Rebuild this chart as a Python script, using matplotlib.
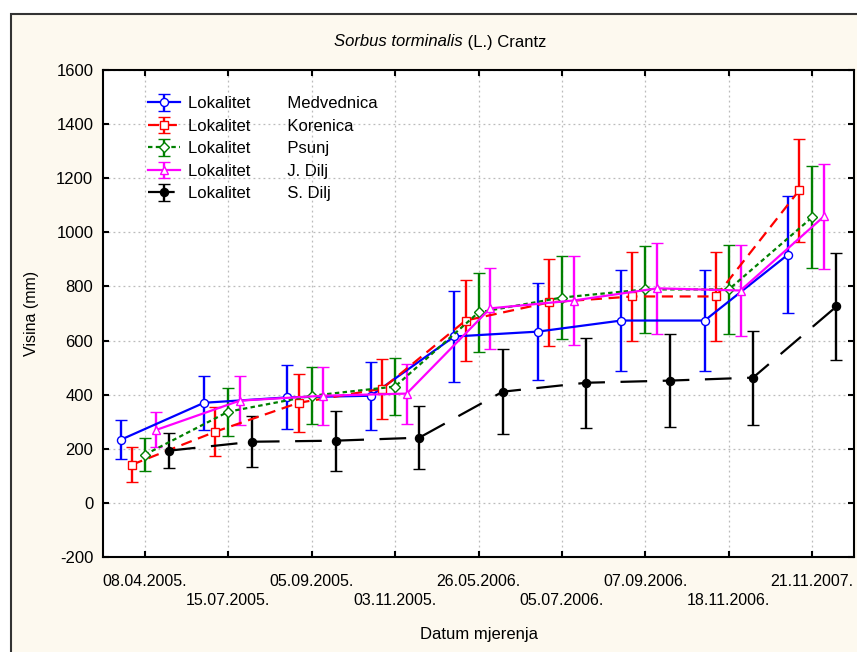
# -*- coding:utf-8 -*-
import numpy as np
import matplotlib
matplotlib.use('Agg')
from matplotlib import pyplot as plt
from matplotlib.patches import Rectangle

# datumi mjerenja
dates = ['08.04.2005.', '15.07.2005.', '05.09.2005.', '03.11.2005.', '26.05.2006.',
         '05.07.2006.', '07.09.2006.', '18.11.2006.', '21.11.2007.']

# srednje visine (mm) i greske po lokalitetu
medvednica = [233, 370, 390, 396, 615, 633, 674, 674, 918]
medvednica_err = [72, 100, 118, 126, 169, 180, 186, 185, 215]
korenica = [141, 263, 370, 422, 674, 741, 763, 763, 1156]
korenica_err = [65, 90, 107, 111, 150, 161, 165, 165, 190]
psunj = [178, 337, 396, 430, 704, 759, 789, 789, 1056]
psunj_err = [61, 89, 105, 107, 147, 155, 161, 163, 189]
j_dilj = [270, 378, 396, 404, 719, 748, 793, 785, 1059]
j_dilj_err = [65, 91, 107, 111, 150, 163, 168, 168, 195]
s_dilj = [193, 226, 230, 241, 411, 444, 452, 463, 726]
s_dilj_err = [65, 95, 111, 117, 156, 167, 172, 174, 199]

names = ['Medvednica', 'Korenica', 'Psunj', 'J. Dilj', 'S. Dilj']

plt.rcParams['font.family'] = ['Liberation Sans', 'DejaVu Sans']
plt.rcParams['axes.unicode_minus'] = False

fig = plt.figure(figsize=(8.57, 6.52), dpi=100, facecolor='white')
# okvir s krem pozadinom
fig.patches.append(Rectangle((11 / 857, -0.02), 1.0, (652 - 14) / 652 + 0.02,
                             transform=fig.transFigure, facecolor='#fdf9ef',
                             edgecolor='#333333', lw=1.5, zorder=-10))

ax = fig.add_axes([103 / 857, 95 / 652, 751 / 857, 487 / 652])
ax.set_facecolor('white')

x = np.arange(1, len(dates) + 1)
series = [
    (medvednica, medvednica_err, -0.29, 'blue', '-', 'o', 'white'),
    (korenica, korenica_err, -0.155, 'red', (0, (5, 3)), 's', 'white'),
    (psunj, psunj_err, 0.0, 'green', (0, (2, 1.5)), 'D', 'white'),
    (j_dilj, j_dilj_err, 0.14, 'magenta', '-', '^', 'white'),
    (s_dilj, s_dilj_err, 0.29, 'black', (0, (12, 7)), 'o', 'black'),
]

for (vals, errs, off, col, ls, mk, fc), name in zip(series, names):
    ms = 5.8 if mk != 'D' else 5.3
    eb = ax.errorbar(x + off, vals, yerr=errs, color=col, ecolor=col, elinewidth=1.7,
                     capsize=4.5, capthick=1.7, lw=1.6, marker=mk, markersize=ms,
                     markerfacecolor=fc, markeredgecolor=col, markeredgewidth=1.0,
                     label='Lokalitet        ' + name, zorder=3)
    eb.lines[0].set_linestyle(ls)

ax.set_xlim(0.5, 9.5)
ax.set_ylim(-200, 1600)
ax.set_yticks(np.arange(-200, 1601, 200))
ax.set_xticks(x)
ax.set_xticklabels([d if i % 2 == 0 else '\n' + d for i, d in enumerate(dates)], fontsize=11.5,
                   linespacing=1.4)
ax.tick_params(axis='y', labelsize=12, direction='in', length=4, width=1.5, right=True, pad=7)
ax.tick_params(axis='x', direction='in', length=4, width=1.5, top=True, pad=12)

ax.grid(True, linestyle=(0, (1.5, 2.5)), color='#bbbbbb', lw=0.9)
ax.set_axisbelow(True)
for sp in ax.spines.values():
    sp.set_linewidth(1.5)
    sp.set_color('black')

ax.set_ylabel('Visina (mm)', fontsize=11.5, labelpad=12)
ax.set_xlabel('Datum mjerenja', fontsize=12, labelpad=13)

# naslov: latinski naziv u kurzivu
fig.text(463 / 857, 1 - 42 / 652, 'Sorbus torminalis', fontsize=12, fontstyle='italic',
         ha='right', va='center')
fig.text(463 / 857, 1 - 42 / 652, ' (L.) Crantz', fontsize=12, ha='left', va='center')

leg = ax.legend(loc='upper left', bbox_to_anchor=(0.045, 0.97), frameon=False,
                fontsize=12, handlelength=1.9, labelspacing=0.45, handletextpad=0.45,
                borderaxespad=0.3)

plt.savefig('out.png', dpi=100, facecolor=fig.get_facecolor())
